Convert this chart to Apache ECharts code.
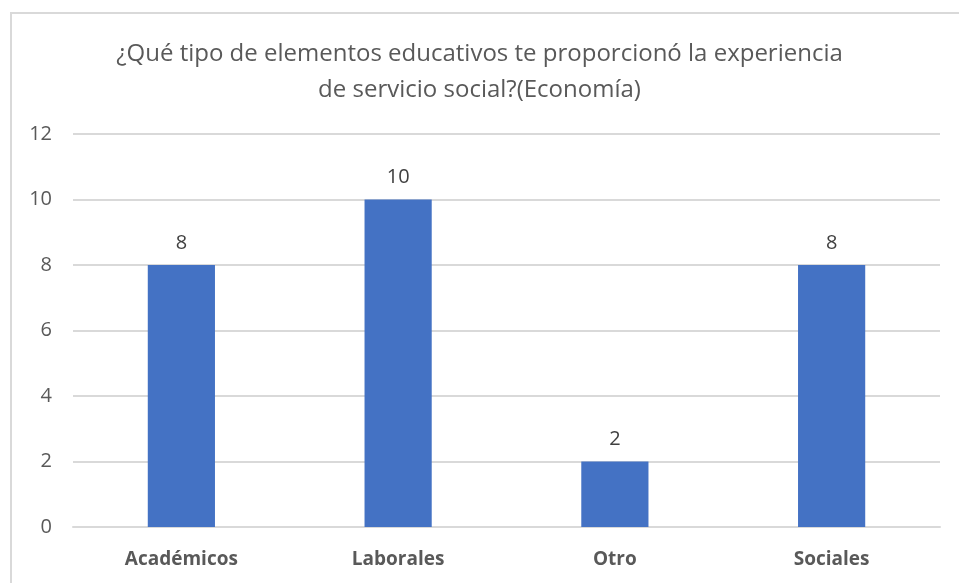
<!DOCTYPE html>
<html>
<head>
<meta charset="utf-8">
<script src="https://cdn.jsdelivr.net/npm/echarts@6/dist/echarts.min.js"></script>
<style>
  html, body { margin: 0; padding: 0; background: #fff; }
  #frame {
    position: absolute; left: 10px; top: 12px; width: 960px; height: 580px;
    border-left: 2px solid #d9d9d9; border-top: 2px solid #d9d9d9; box-sizing: border-box;
  }
  #chart { position: absolute; left: 0; top: 0; width: 959px; height: 583px; }
</style>
</head>
<body>
<div id="frame"></div>
<div id="chart"></div>
<script>
const categories = ['Académicos', 'Laborales', 'Otro', 'Sociales']
const counts = [8, 10, 2, 8]
const titleLines = ['¿Qué tipo de elementos educativos te proporcionó la experiencia', 'de servicio social?(Economía)']

const chart = echarts.init(document.getElementById('chart'))

const option = {
    animation: false,
    title: {
        text: titleLines.join('\n'),
        left: 'center',
        top: 31,
        textStyle: {
            fontFamily: 'Open Sans',
            fontWeight: 'normal',
            fontSize: 24,
            lineHeight: 36,
            color: '#595959'
        }
    },
    grid: {
        left: 73,
        right: 19,
        top: 134,
        bottom: 56
    },
    xAxis: {
        type: 'category',
        data: categories,
        axisLine: { lineStyle: { color: '#d9d9d9', width: 2 } },
        axisTick: { show: false },
        axisLabel: {
            fontFamily: 'Open Sans',
            fontWeight: 'bold',
            fontSize: 19,
            color: '#595959',
            margin: 23
        }
    },
    yAxis: {
        type: 'value',
        min: 0,
        max: 12,
        interval: 2,
        axisLine: { show: false },
        axisTick: { show: false },
        splitLine: { lineStyle: { color: '#d9d9d9', width: 2 } },
        axisLabel: {
            fontFamily: 'Open Sans',
            fontSize: 20,
            color: '#595959',
            margin: 21
        }
    },
    series: [
        {
            type: 'bar',
            data: counts,
            barWidth: '31%',
            itemStyle: { color: '#4472C4' },
            label: {
                show: true,
                position: 'top',
                distance: 12,
                fontFamily: 'Open Sans',
                fontSize: 20,
                color: '#404040'
            }
        }
    ]
}

chart.setOption(option)
</script>
</body>
</html>
